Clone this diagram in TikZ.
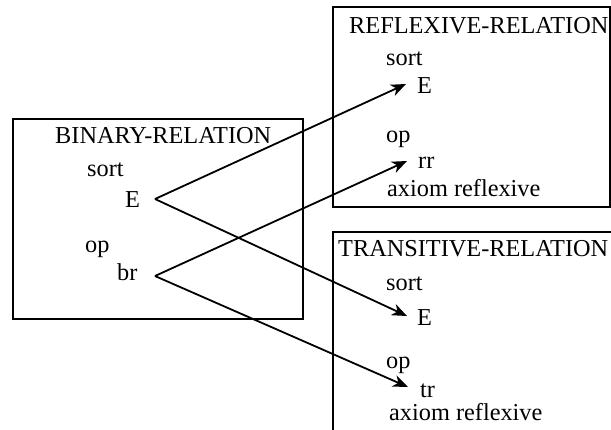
\documentclass[tikz,border=0pt]{standalone}
\usepackage{fontspec}
\setmainfont{Liberation Serif}
\usetikzlibrary{arrows.meta}
\begin{document}
\begin{tikzpicture}[x=1bp,y=-1bp,
  box/.style={line width=1.8bp},
  lbl/.style={anchor=base west,inner sep=0pt,font=\fontsize{24.3bp}{28bp}\selectfont},
  conn/.style={line width=1.8bp,-{Stealth[length=15bp,width=12bp,inset=4.5bp]}}]
\useasboundingbox (0,0) rectangle (611,429);
\begin{scope}
\clip (0,0) rectangle (611,429);
% boxes
\draw[box] (13,119) rectangle (303,319);
\draw[box] (333,7) rectangle (610,207);
\draw[box] (333,440) -- (333,232) -- (620,232);
% binary relation
\node[lbl] (bT) at (55,143) {BINARY-RELATION};
\node[lbl] (bS) at (87,176) {sort};
\node[lbl] (bE) at (125,207) {E};
\node[lbl] (bO) at (85,252) {op};
\node[lbl] (bB) at (117,280) {br};
% reflexive relation
\node[lbl] (rT) at (349,33) {REFLEXIVE-RELATION};
\node[lbl] (rS) at (386,65) {sort};
\node[lbl] (rE) at (417,93) {E};
\node[lbl] (rO) at (386,142) {op};
\node[lbl] (rR) at (418,168) {rr};
\node[lbl] (rA) at (387,196) {axiom reflexive};
% transitive relation
\node[lbl] (tT) at (338,256) {TRANSITIVE-RELATION};
\node[lbl] (tS) at (386,290) {sort};
\node[lbl] (tE) at (417,325) {E};
\node[lbl] (tO) at (386,368) {op};
\node[lbl] (tR) at (420,397) {tr};
\node[lbl] (tA) at (389,420) {axiom reflexive};
% connector ends
\coordinate (bEv) at (155,199);
\coordinate (bBv) at (155,276);
\coordinate (rEt) at (406,84);
\coordinate (rRt) at (407,161);
\coordinate (tEt) at (407,316);
\coordinate (tRt) at (408,387);
\draw[conn] (bEv) -- (rEt);
\draw[conn] (bEv) -- (tEt);
\draw[conn] (bBv) -- (rRt);
\draw[conn] (bBv) -- (tRt);
\end{scope}
\end{tikzpicture}
\end{document}
